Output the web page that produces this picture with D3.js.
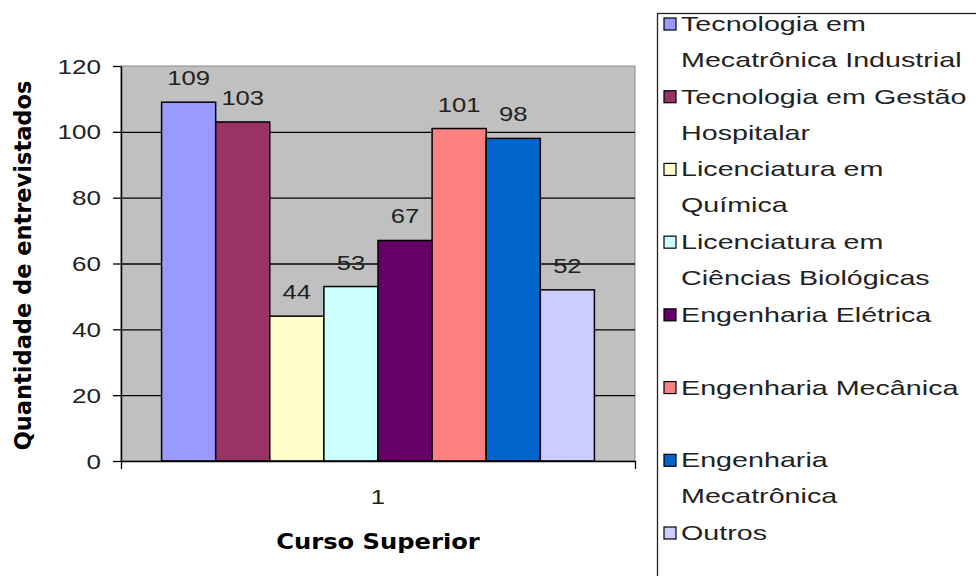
<!DOCTYPE html>
<html>
<head>
<meta charset="utf-8">
<script src="https://cdn.jsdelivr.net/npm/d3@7"></script>
<style>
  body { margin: 0; background: #fff; }
  svg { display: block; }
  .lbl { font-family: "Liberation Sans", Arial, sans-serif; fill: #222; }
  .bold { font-family: "DejaVu Sans", Verdana, sans-serif; font-weight: bold; fill: #000; }
</style>
</head>
<body>
<div id="chart"></div>
<script>
// data
var categories = ["Tecnologia em Mecatrônica Industrial", "Tecnologia em Gestão Hospitalar",
                  "Licenciatura em Química", "Licenciatura em Ciências Biológicas",
                  "Engenharia Elétrica", "Engenharia Mecânica", "Engenharia Mecatrônica", "Outros"];
var legendLines = [["Tecnologia em", "Mecatrônica Industrial"], ["Tecnologia em Gestão", "Hospitalar"],
                   ["Licenciatura em", "Química"], ["Licenciatura em", "Ciências Biológicas"],
                   ["Engenharia Elétrica"], ["Engenharia Mecânica"], ["Engenharia", "Mecatrônica"], ["Outros"]];
var values = [109, 103, 44, 53, 67, 101, 98, 52];
var colors = ["#9999FF", "#993366", "#FFFFCC", "#CCFFFF", "#660066", "#FF8080", "#0066CC", "#CCCCFF"];
var yTicks = [0, 20, 40, 60, 80, 100, 120];
var groupLabel = ["1"];

var W = 976, H = 576;
var plot = {left: 121, right: 635, top: 66, bottom: 461};

var svg = d3.select("#chart").append("svg")
            .attr("width", W)
            .attr("height", H);

var x = d3.scaleBand().domain(categories)
          .range([plot.left, plot.right])
          .paddingInner(0).paddingOuter(0.75);
var y = d3.scaleLinear().domain([0, 120]).range([plot.bottom, plot.top]);
var xGroup = d3.scaleBand().domain(groupLabel).range([plot.left, plot.right]);
var xEnds = d3.scaleLinear().domain([0, 1]).range([plot.left, plot.right]);

// plot area
svg.append("rect")
   .attr("x", plot.left).attr("y", plot.top)
   .attr("width", plot.right - plot.left).attr("height", plot.bottom - plot.top)
   .attr("fill", "#C0C0C0").attr("stroke", "#8a8a8a").attr("stroke-width", 1);

// gridlines
svg.append("g")
   .attr("transform", "translate(" + plot.left + ",0)")
   .call(d3.axisLeft(y).tickValues(yTicks.slice(1, -1)).tickSize(-(plot.right - plot.left)).tickFormat(""))
   .call(function(g){ g.select(".domain").remove(); })
   .selectAll("line").attr("stroke", "#000").attr("stroke-width", 1.3);

// bars
svg.selectAll(".bar").data(values).enter().append("rect")
   .attr("class", "bar")
   .attr("x", function(d, i){ return x(categories[i]); })
   .attr("y", function(d){ return y(d); })
   .attr("width", x.bandwidth())
   .attr("height", function(d){ return y(0) - y(d); })
   .attr("fill", function(d, i){ return colors[i]; })
   .attr("stroke", "#000")
   .attr("stroke-width", 1.5);

// value labels
svg.selectAll(".val").data(values).enter().append("text")
   .attr("class", "lbl val")
   .attr("text-anchor", "middle")
   .attr("font-size", 20.5)
   .attr("transform", function(d, i){
       return "translate(" + (x(categories[i]) + x.bandwidth() / 2) + "," + (y(d) - 17) + ") scale(1.25,1)";
   })
   .text(function(d){ return d; });

// y axis
var yAxis = svg.append("g")
   .attr("transform", "translate(" + plot.left + ",0)")
   .call(d3.axisLeft(y).tickValues(yTicks).tickSize(8).tickSizeOuter(0));
yAxis.select(".domain").attr("stroke", "#000").attr("stroke-width", 1.5);
yAxis.selectAll("line").attr("stroke", "#000").attr("stroke-width", 1.3);
yAxis.selectAll("text")
     .attr("class", "lbl")
     .attr("font-size", 20.5)
     .attr("x", null).attr("dy", null)
     .attr("transform", "translate(-20,7) scale(1.27,1)");
yAxis.attr("font-family", null);

// x axis: base line with end ticks
var xAxis = svg.append("g")
   .attr("transform", "translate(0," + plot.bottom + ")")
   .call(d3.axisBottom(xEnds).tickValues([0, 1]).tickSize(8).tickSizeOuter(0).tickFormat(""));
xAxis.select(".domain").attr("stroke", "#000").attr("stroke-width", 1.5);
xAxis.selectAll("line").attr("stroke", "#000").attr("stroke-width", 1.3);

var xLab = svg.append("g")
   .attr("transform", "translate(0," + plot.bottom + ")")
   .call(d3.axisBottom(xGroup).tickSize(0));
xLab.select(".domain").remove();
xLab.attr("font-family", null);
xLab.selectAll("text")
    .attr("class", "lbl")
    .attr("font-size", 20.5)
    .attr("y", null).attr("dy", null)
    .attr("transform", "translate(0,43) scale(1.25,1)");

// axis titles
svg.append("text")
   .attr("class", "bold")
   .attr("font-size", 22)
   .attr("text-anchor", "middle")
   .attr("transform", "translate(" + ((plot.left + plot.right) / 2) + ",549) scale(1.1,1)")
   .text("Curso Superior");

svg.append("text")
   .attr("class", "bold")
   .attr("font-size", 22.5)
   .attr("text-anchor", "middle")
   .attr("transform", "translate(31," + ((plot.top + plot.bottom) / 2 + 2) + ") rotate(-90)")
   .text("Quantidade de entrevistados");

// legend
var legend = svg.append("g");
legend.append("rect")
      .attr("x", 657.5).attr("y", 13.5)
      .attr("width", 400).attr("height", 600)
      .attr("fill", "#fff").attr("stroke", "#222").attr("stroke-width", 1.3);

var rowY = d3.scaleLinear().domain([0, categories.length - 1]).range([31, 540]);

var items = legend.selectAll(".item").data(legendLines).enter().append("g")
                  .attr("class", "item")
                  .attr("transform", function(d, i){ return "translate(0," + rowY(i) + ")"; });
items.append("rect")
     .attr("x", 664).attr("y", -13)
     .attr("width", 12).attr("height", 12)
     .attr("fill", function(d, i){ return colors[i]; })
     .attr("stroke", "#000").attr("stroke-width", 1.2);
items.selectAll("text").data(function(d){ return d; }).enter().append("text")
     .attr("class", "lbl")
     .attr("font-size", 20.5)
     .attr("transform", function(d, j){ return "translate(681," + (j * 36) + ") scale(1.4,1)"; })
     .text(function(d){ return d; });
</script>
</body>
</html>
